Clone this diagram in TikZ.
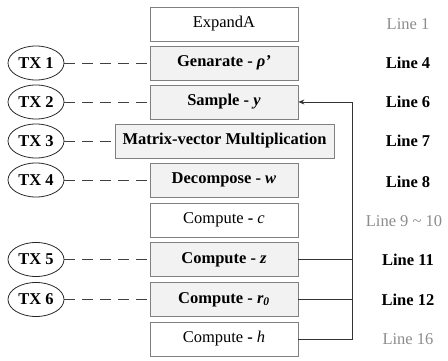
\documentclass[tikz,border=0pt]{standalone}
\usepackage{fontspec}
\setmainfont{Liberation Serif}
\usetikzlibrary{arrows.meta,shapes.geometric}
\definecolor{boxfill}{HTML}{F2F2F2}
\definecolor{boxline}{HTML}{7F7F7F}
\definecolor{graytext}{HTML}{8C8C8C}
\begin{document}
\begin{tikzpicture}[x=1pt,y=-1pt,
  font=\fontsize{16.5}{19}\selectfont,
  plainbox/.style={draw=boxline,line width=0.8pt,fill=white,minimum width=148pt,minimum height=34pt,inner sep=0pt},
  txbox/.style={plainbox,fill=boxfill,font=\fontsize{16.5}{19}\selectfont\bfseries},
  txell/.style={draw=black!85,line width=0.8pt,ellipse,minimum width=56pt,minimum height=34pt,inner sep=0pt,font=\fontsize{16.5}{19}\selectfont\bfseries},
  dashlink/.style={draw=black!75,line width=0.8pt,dash pattern=on 11pt off 7pt},
  conn/.style={draw=black!80,line width=0.8pt},
  linelab/.style={anchor=center,font=\fontsize{16.5}{19}\selectfont\bfseries},
  graylab/.style={anchor=center,text=graytext,font=\fontsize{16.5}{19}\selectfont}]
\useasboundingbox (0,0) rectangle (448,361);
% boxes
\node[plainbox] (b1) at (224,24) {ExpandA};
\node[txbox] (b2) at (224,63) {Genarate - \textit{ρ'}};
\node[txbox] (b3) at (224,102) {Sample - \textit{y}};
\node[txbox,minimum width=219pt] (b4) at (224.5,141) {Matrix-vector Multiplication};
\node[txbox] (b5) at (224,180) {Decompose - \textit{w}};
\node[plainbox] (b6) at (224,220) {Compute \textbf{-} \textit{c}};
\node[txbox] (b7) at (224,259.5) {Compute - \textit{z}};
\node[txbox] (b8) at (224,299.5) {Compute - \textit{r\textsubscript{0}}};
\node[plainbox] (b9) at (224,339) {Compute \textbf{-} \textit{h}};
% ellipses
\node[txell] (t1) at (36,63) {TX 1};
\node[txell] (t2) at (36,102) {TX 2};
\node[txell] (t3) at (36,141) {TX 3};
\node[txell] (t4) at (36,180) {TX 4};
\node[txell] (t5) at (36,259.5) {TX 5};
\node[txell] (t6) at (36,299.5) {TX 6};
% dashed links
\foreach \t/\b in {t1/b2,t2/b3,t3/b4,t4/b5,t5/b7,t6/b8}
  \draw[dashlink] (\t.east) -- (\b.west);
% feedback connector
\coordinate (vtop) at (352,102);
\coordinate (vz) at (352,259.5);
\coordinate (vr) at (352,299.5);
\coordinate (vh) at (352,339);
\draw[conn] (b7.east) -- (vz);
\draw[conn] (b8.east) -- (vr);
\draw[conn] (b9.east) -- (vh) -- (vtop);
\draw[conn,-{Stealth[length=6pt,width=5pt]}] (vtop) -- (b3.east);
% line labels
\node[graylab] (l1) at (408,24) {Line 1};
\node[linelab] (l2) at (408,63) {Line 4};
\node[linelab] (l3) at (408,102) {Line 6};
\node[linelab] (l4) at (408,141) {Line 7};
\node[linelab] (l5) at (408,182) {Line 8};
\node[graylab] (l6) at (404,221) {Line 9 \textasciitilde{} 10};
\node[linelab] (l7) at (408,259.5) {Line 11};
\node[linelab] (l8) at (408,299.5) {Line 12};
\node[graylab] (l9) at (408,339) {Line 16};
\end{tikzpicture}
\end{document}
